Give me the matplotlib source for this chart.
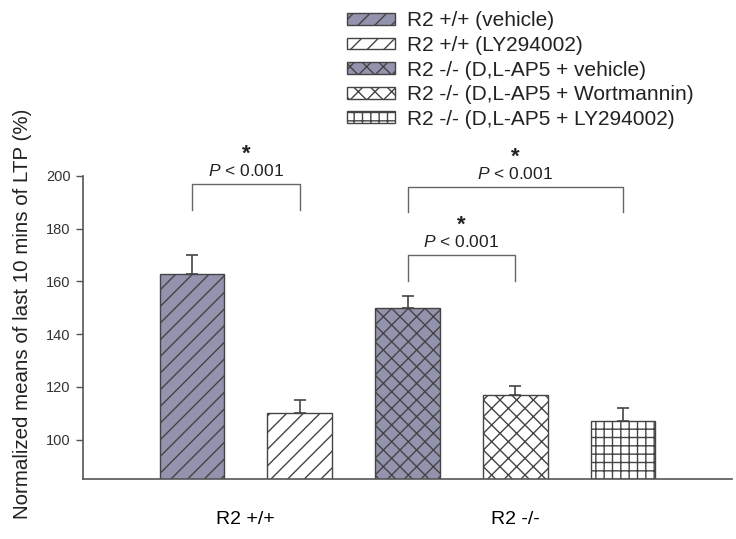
import matplotlib
matplotlib.use("Agg")
import matplotlib.pyplot as plt
import numpy as np

plt.rcParams['font.family'] = ['Liberation Sans', 'DejaVu Sans']
plt.rcParams['mathtext.fontset'] = 'custom'
plt.rcParams['mathtext.rm'] = 'Liberation Sans'
plt.rcParams['mathtext.it'] = 'Liberation Sans:italic'
plt.rcParams['hatch.linewidth'] = 1.0

list_label = ['R2 +/+ (vehicle)', 'R2 +/+ (LY294002)', 'R2 -/- (D,L-AP5 + vehicle)',
              'R2 -/- (D,L-AP5 + Wortmannin)', 'R2 -/- (D,L-AP5 + LY294002)']
list_mean = [163, 110, 150, 117, 107]
list_sem = [7, 5.2, 4.5, 3.5, 5]
list_hatch = ['//', '//', 'xx', 'xx', '++']
list_color = ['#9393ad', 'white', '#9393ad', 'white', 'white']
list_group = ['R2 +/+', 'R2 -/-']
list_group_pos = [0.5, 3]
# bracket: (bar a, bar b, y top, y of leg ends)
list_bracket = [(0, 1, 197, 187), (2, 4, 196, 186.5), (2, 3, 170, 160)]
text_p = r'$\it{P}$ < 0.001'

color_line = '#444444'

fig = plt.figure(figsize=(7.36, 5.39), dpi=100)
ax = fig.add_axes([0.1128, 0.1108, 0.8818, 0.5627])

x = np.arange(len(list_mean))
bars = ax.bar(x, list_mean, width=0.6, color=list_color, edgecolor=color_line,
              linewidth=1.0, zorder=2)
for bar, hatch in zip(bars, list_hatch):
    bar.set_hatch(hatch)

ax.errorbar(x, list_mean, yerr=[np.zeros(len(list_sem)), list_sem], fmt='none',
            ecolor=color_line, elinewidth=1.2, capsize=4.5, capthick=1.2, zorder=3)

for a, b, y_top, y_leg in list_bracket:
    ax.plot([x[a], x[a], x[b], x[b]], [y_leg, y_top, y_top, y_leg], color='#666666',
            linewidth=1.0, clip_on=False)
    x_mid = (x[a] + x[b]) / 2
    ax.text(x_mid, y_top + 4.8, text_p, ha='center', va='center', fontsize=12.5,
            color='#222222', clip_on=False)
    ax.text(x_mid, y_top + 11.2, '*', ha='center', va='center', fontsize=16,
            fontweight='bold', color='#222222', clip_on=False)

ax.set_xlim(-1.01, 5.01)
ax.set_ylim(85, 200)
ax.set_yticks(np.arange(100, 201, 20))
ax.set_xticks(list_group_pos, list_group, fontsize=14)
ax.tick_params(axis='x', length=0, pad=23)
ax.tick_params(axis='y', direction='out', length=5, width=1.0, colors='#555555',
               labelcolor='#333333', labelsize=10.5, pad=4)
for side in ['top', 'right']:
    ax.spines[side].set_visible(False)
for side in ['left', 'bottom']:
    ax.spines[side].set_color('#555555')
    ax.spines[side].set_linewidth(1.2)

ax.set_ylabel('Normalized means of last 10 mins of LTP (%)', fontsize=14.8, color='#222222')
ax.yaxis.set_label_coords(-0.078, 0.547)

fig.legend(bars, list_label, loc='upper left', bbox_to_anchor=(0.4715, 0.979),
           frameon=False, fontsize=15, handlelength=2.3, handleheight=0.5,
           handletextpad=0.58, labelspacing=0.27, borderpad=0, borderaxespad=0,
           labelcolor='#222222')

fig.savefig('out.png', dpi=100)
